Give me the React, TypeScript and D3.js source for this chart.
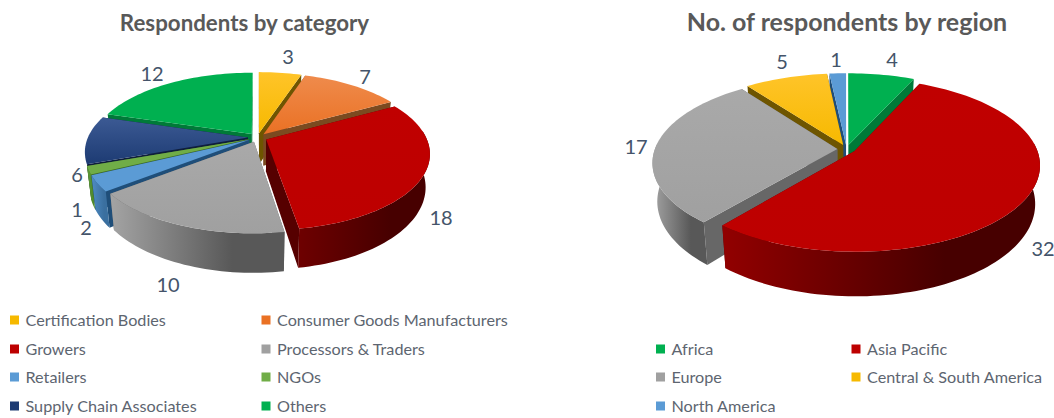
import React from "react";
import * as d3 from "d3";

// Respondent counts per stakeholder category
const categoryNames = ["Certification Bodies", "Consumer Goods Manufacturers", "Growers", "Processors & Traders", "Retailers", "NGOs", "Supply Chain Associates", "Others"];
const categoryValues = [3, 7, 18, 10, 2, 1, 6, 12];

// Respondent counts per region
const regionNames = ["Africa", "Asia Pacific", "Europe", "Central & South America", "North America"];
const regionValues = [4, 32, 17, 5, 1];

type Shade = { top: [string, string]; wall: [string, string]; side: string };

const YELLOW: Shade = { top: ["#ffc429", "#f6b900"], wall: ["#d9a300", "#8f6d00"], side: "#6e5500" };
const ORANGE: Shade = { top: ["#ef8b4c", "#ea7124"], wall: ["#b85a1e", "#7a3d14"], side: "#7b4a20" };
const RED: Shade = { top: ["#c00000", "#bd0000"], wall: ["#920000", "#470000"], side: "#560000" };
const DEEP_RED: Shade = { top: ["#c00000", "#bd0000"], wall: ["#6e0000", "#470000"], side: "#560000" };
const GREY: Shade = { top: ["#a9a9a9", "#a0a0a0"], wall: ["#a4a4a4", "#585858"], side: "#676767" };
const BLUE: Shade = { top: ["#5b9bd5", "#5b9bd5"], wall: ["#4f8cc4", "#3a6f9f"], side: "#1f4e79" };
const LEAF: Shade = { top: ["#70ad47", "#70ad47"], wall: ["#5f9a39", "#4f8a2c"], side: "#3d6b22" };
const NAVY: Shade = { top: ["#3c5a94", "#1d3b73"], wall: ["#1d3b73", "#14284e"], side: "#0e1e3c" };
const GREEN: Shade = { top: ["#00b050", "#00b050"], wall: ["#008a3e", "#006b30"], side: "#007a38" };

const categoryShades = [YELLOW, ORANGE, DEEP_RED, GREY, BLUE, LEAF, NAVY, GREEN];
const regionShades = [GREEN, RED, GREY, YELLOW, BLUE];

type View = { cx: number; cy: number; rx: number; ry: number; k: number; depth: number; explode: number };

const leftView: View = { cx: 257.5, cy: 137.5, rx: 160, ry: 73.5, k: 0.18, depth: 32, explode: 0.06 };
const rightView: View = { cx: 846.5, cy: 149, rx: 182.5, ry: 84, k: 0.156, depth: 37.5, explode: 0.05 };

const leftLabels: [number, number][] = [[288, 56], [365, 76], [441, 217], [168, 284], [86, 227], [77, 209], [77, 174], [152, 73]];
const rightLabels: [number, number][] = [[892, 59], [1043, 248], [636, 146], [782, 61], [836, 59]];

// The supply-chain slice sits behind its neighbours, so it gets no rim.
const leftRimless = [6];
const rightRimless: number[] = [];

const INK = "#44546a";
const LEGEND_INK = "#5d6570";
const FONT = "Lato, 'Open Sans', sans-serif";

const toPath = d3.line<[number, number]>();

// Perspective projection of a point on the pie plane; v points away from the viewer.
function project(view: View, u: number, v: number, lowered = false): [number, number] {
  const denom = 1 + view.k * v;
  const x = view.rx * (u / denom);
  const y = view.cy - (view.ry * v) / denom;
  if (!lowered) return [view.cx + x, y];
  return [view.cx + x * 0.975, y + view.depth / denom];
}

function Pie3D({ id, view, values, shades, labels, rimless }: { id: string; view: View; values: number[]; shades: Shade[]; labels: [number, number][]; rimless: number[] }) {
  const arcs = d3.pie<number>().sort(null).startAngle(0).endAngle(2 * Math.PI)(values);
  const slices = arcs.map((a, i) => {
    const mid = (a.startAngle + a.endAngle) / 2;
    const ox = view.explode * Math.sin(mid);
    const oy = view.explode * Math.cos(mid);
    const steps = Math.max(4, Math.ceil((a.endAngle - a.startAngle) / 0.03));
    const angles = d3.range(steps + 1).map((s) => a.startAngle + ((a.endAngle - a.startAngle) * s) / steps);
    const rim = (t: number, low = false) => project(view, ox + Math.sin(t), oy + Math.cos(t), low);
    const apex = project(view, ox, oy);
    const apexLow = project(view, ox, oy, true);
    const top = toPath([apex, ...angles.map((t) => rim(t))])! + "Z";
    const radial = (t: number) => toPath([apex, rim(t), rim(t, true), apexLow])! + "Z";
    const visible = rimless.includes(i) ? [] : angles.filter((t) => oy + Math.cos(t) < 0.1);
    const outer = visible.length > 1 ? toPath([...visible.map((t) => rim(t)), ...visible.slice().reverse().map((t) => rim(t, true))])! + "Z" : null;
    return { i, depthKey: oy, top, start: radial(a.startAngle), end: radial(a.endAngle), outer, shade: shades[i] };
  });
  const ordered = slices.slice().sort((a, b) => b.depthKey - a.depthKey);

  return (
    <g>
      <defs>
        {slices.map((s) => (
          <React.Fragment key={s.i}>
            <linearGradient id={`${id}-top-${s.i}`} x1="0" y1="0" x2="0" y2="1">
              <stop offset="0" stopColor={s.shade.top[0]} />
              <stop offset="1" stopColor={s.shade.top[1]} />
            </linearGradient>
            <linearGradient id={`${id}-wall-${s.i}`} x1="0" y1="0" x2="1" y2="0">
              <stop offset="0" stopColor={s.shade.wall[0]} />
              <stop offset="0.7" stopColor={s.shade.wall[1]} />
              <stop offset="1" stopColor={s.shade.wall[1]} />
            </linearGradient>
          </React.Fragment>
        ))}
      </defs>
      {ordered.map((s) => (
        <g key={s.i}>
          <path d={s.start} fill={s.shade.side} />
          <path d={s.end} fill={s.shade.side} />
          {s.outer && <path d={s.outer} fill={`url(#${id}-wall-${s.i})`} />}
          <path d={s.top} fill={`url(#${id}-top-${s.i})`} />
        </g>
      ))}
      {values.map((v, i) => (
        <text key={i} x={labels[i][0]} y={labels[i][1]} textAnchor="middle" dominantBaseline="central" fontSize={20} fill={INK} fontFamily={FONT}>
          {v}
        </text>
      ))}
    </g>
  );
}

function Legend({ names, shades, columns, rows }: { names: string[]; shades: Shade[]; columns: number[]; rows: number[] }) {
  return (
    <g>
      {names.map((name, i) => {
        const x = columns[i % 2];
        const y = rows[Math.floor(i / 2)];
        return (
          <g key={name}>
            <rect x={x} y={y - 4.5} width={9} height={9} fill={shades[i].top[1]} />
            <text x={x + 15.5} y={y - 0.8} dominantBaseline="central" fontSize={16.2} fill={LEGEND_INK} fontFamily={FONT}>
              {name}
            </text>
          </g>
        );
      })}
    </g>
  );
}

export default function App() {
  return (
    <svg width={1054} height={418} viewBox="0 0 1054 418" style={{ position: "absolute", left: 0, top: 0, background: "#fff" }}>
      <text x={244.5} y={31} textAnchor="middle" fontSize={22.3} fontWeight={700} fill="#595959" fontFamily={FONT}>
        Respondents by category
      </text>
      <text x={847} y={31} textAnchor="middle" fontSize={25} fontWeight={700} fill="#595959" fontFamily={FONT}>
        No. of respondents by region
      </text>
      <Pie3D id="category" view={leftView} values={categoryValues} shades={categoryShades} labels={leftLabels} rimless={leftRimless} />
      <Pie3D id="region" view={rightView} values={regionValues} shades={regionShades} labels={rightLabels} rimless={rightRimless} />
      <Legend names={categoryNames} shades={categoryShades} columns={[10, 261.5]} rows={[320, 349, 377, 406]} />
      <Legend names={regionNames} shades={regionShades} columns={[656, 851.5]} rows={[349, 377, 406]} />
    </svg>
  );
}
